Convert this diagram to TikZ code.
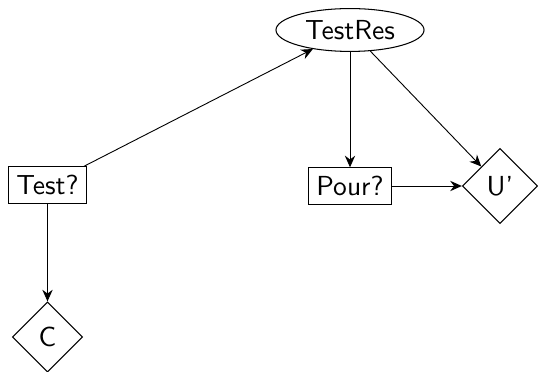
\documentclass[tikz,border=0pt]{standalone}
\usetikzlibrary{shapes.geometric,arrows.meta}
\tikzset{
  chance/.style={draw, ellipse, minimum width=57pt, minimum height=16.5pt, inner sep=1pt},
  decision/.style={draw, rectangle, inner sep=3.2pt},
  utility/.style={draw, diamond, aspect=1, minimum size=29pt, inner sep=0pt},
  link/.style={draw, -{Stealth[length=4.5pt,width=4pt,inset=1.5pt]}, line width=0.35pt}
}
\begin{document}
\begin{tikzpicture}[x=0.385pt, y=-0.385pt, font=\fontsize{10.6}{12.7}\sffamily]
  \useasboundingbox (0,0) rectangle (538,372);
  \node[chance] (res) at (350,30) {TestRes};
  \node[decision] (test) at (47.5,185) {Test?};
  \node[decision] (pour) at (350,186) {Pour?};
  \node[utility] (u) at (500,186) {U'};
  \node[utility, minimum size=27pt] (c) at (47.5,337) {C};
  \path[link] (test) -- (res);
  \path[link] (test) -- (c);
  \path[link] (res) -- (pour);
  \path[link] (res) -- (u);
  \path[link] (pour) -- (u);
\end{tikzpicture}
\end{document}
